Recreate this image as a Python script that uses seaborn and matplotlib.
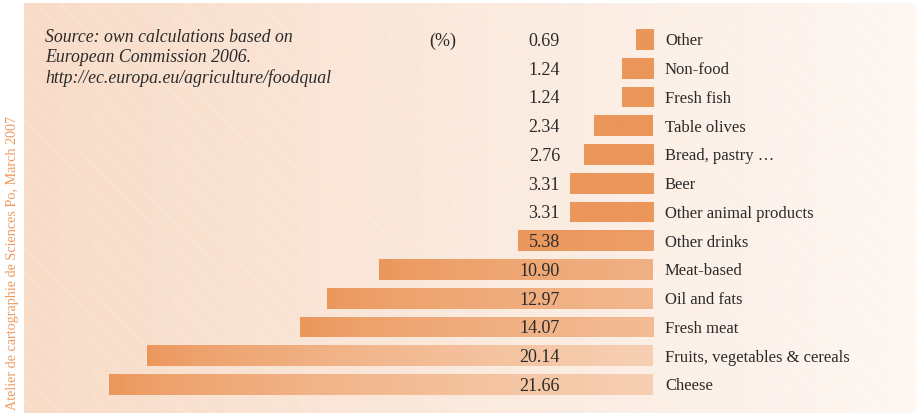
import numpy as np
import pandas as pd
import matplotlib
matplotlib.use("Agg")
import matplotlib.pyplot as plt
import seaborn as sns
from matplotlib.colors import to_rgb

categories = ["Other", "Non-food", "Fresh fish", "Table olives", "Bread, pastry \u2026",
              "Beer", "Other animal products", "Other drinks", "Meat-based",
              "Oil and fats", "Fresh meat", "Fruits, vegetables & cereals", "Cheese"]
values = [0.69, 1.24, 1.24, 2.34, 2.76, 3.31, 3.31, 5.38, 10.90, 12.97, 14.07, 20.14, 21.66]
value_labels = ["0.69", "1.24", "1.24", "2.34", "2.76", "3.31", "3.31", "5.38",
                "10.90", "12.97", "14.07", "20.14", "21.66"]
unit_label = "(%)"
source_text = "Source: own calculations based on\nEuropean Commission 2006.\nhttp://ec.europa.eu/agriculture/foodqual"
credit_text = "Atelier de cartographie de Sciences Po, March 2007"

sns.set_theme(style="white")
plt.rcParams['font.family'] = ['Liberation Serif', 'DejaVu Serif']

W, H = 916, 414
fig = plt.figure(figsize=(W / 100, H / 100), dpi=100)

# background panel with gradient
bg = fig.add_axes([24 / W, 0, 1 - 24 / W, (H - 4) / H])
bg.set_axis_off()
c_left = np.array([248, 220, 200]) / 255
c_right = np.array([254, 247, 242]) / 255
xs = np.linspace(0, 1, 256)
grad = c_left[None, :] * (1 - xs[:, None]) + c_right[None, :] * xs[:, None]
grad = np.tile(grad[None, :, :], (2, 1, 1))
bg.imshow(grad, aspect="auto", extent=[0, 1, 0, 1])
# faint diagonal lines
for k in np.arange(-1.5, 1.0, 0.028):
    bg.plot([k, k + 0.45], [1, 0], color="white", lw=0.5, alpha=0.3)
bg.set_xlim(0, 1)
bg.set_ylim(0, 1)

ax = fig.add_axes([0, 0, 1, 1])
ax.patch.set_alpha(0)
df = pd.DataFrame({"cat": categories, "val": values})
dark = "#eb965a"
sns.barplot(data=df, x="val", y="cat", orient="h", color=dark, saturation=1,
            width=0.72, ax=ax, edgecolor="none")

px_per_unit = 25.1
x0 = 653
xl = (x0 / px_per_unit, -(W - x0) / px_per_unit)
ax.set_xlim(*xl)
row0, step = 40.5, 28.75
ax.set_ylim((H - row0) / step, -row0 / step)

# gradient overlays on bars
dark_rgb = np.array(to_rgb(dark))
light_rgb = np.array([247, 208, 180]) / 255
for p, v in zip(ax.patches, values):
    f = min(1.0, max(0.0, (v - 3.0) / 17.0))
    end = dark_rgb * (1 - f) + light_rgb * f
    t = np.linspace(0, 1, 128)
    t = t ** 0.7
    g = dark_rgb[None, :] * (1 - t[:, None]) + end[None, :] * t[:, None]
    g = np.tile(g[None, :, :], (2, 1, 1))
    bx, by = p.get_x(), p.get_y()
    bw, bh = p.get_width(), p.get_height()
    im = ax.imshow(g, aspect="auto", extent=[bx + bw, bx, by + bh, by], zorder=p.get_zorder() + 0.1)
    im.set_clip_path(p)

ax.set_xlim(*xl)
ax.set_ylim((H - row0) / step, -row0 / step)
ax.set_axis_off()

txt_col = "#2b2b2b"
vx = (x0 - 560) / px_per_unit
lx = -(665 - x0) / px_per_unit
for i, (lab, vl) in enumerate(zip(categories, value_labels)):
    ax.text(vx, i + 0.03, vl, ha="right", va="center", fontsize=13, color=txt_col, zorder=10)
    ax.text(lx, i + 0.03, lab, ha="left", va="center", fontsize=12, color=txt_col, zorder=10)
ax.text((x0 - 443) / px_per_unit, 0.03, unit_label, ha="center", va="center",
        fontsize=13, color=txt_col)

fig.text(45 / W, 1 - 29 / H, source_text, ha="left", va="top", fontsize=12.8,
         style="italic", color=txt_col, linespacing=1.22)
fig.text(13 / W, 1 - 410 / H, credit_text, rotation=90, ha="center", va="bottom",
         fontsize=10.2, color="#ee9a5e")

fig.savefig("out.png", dpi=100)
